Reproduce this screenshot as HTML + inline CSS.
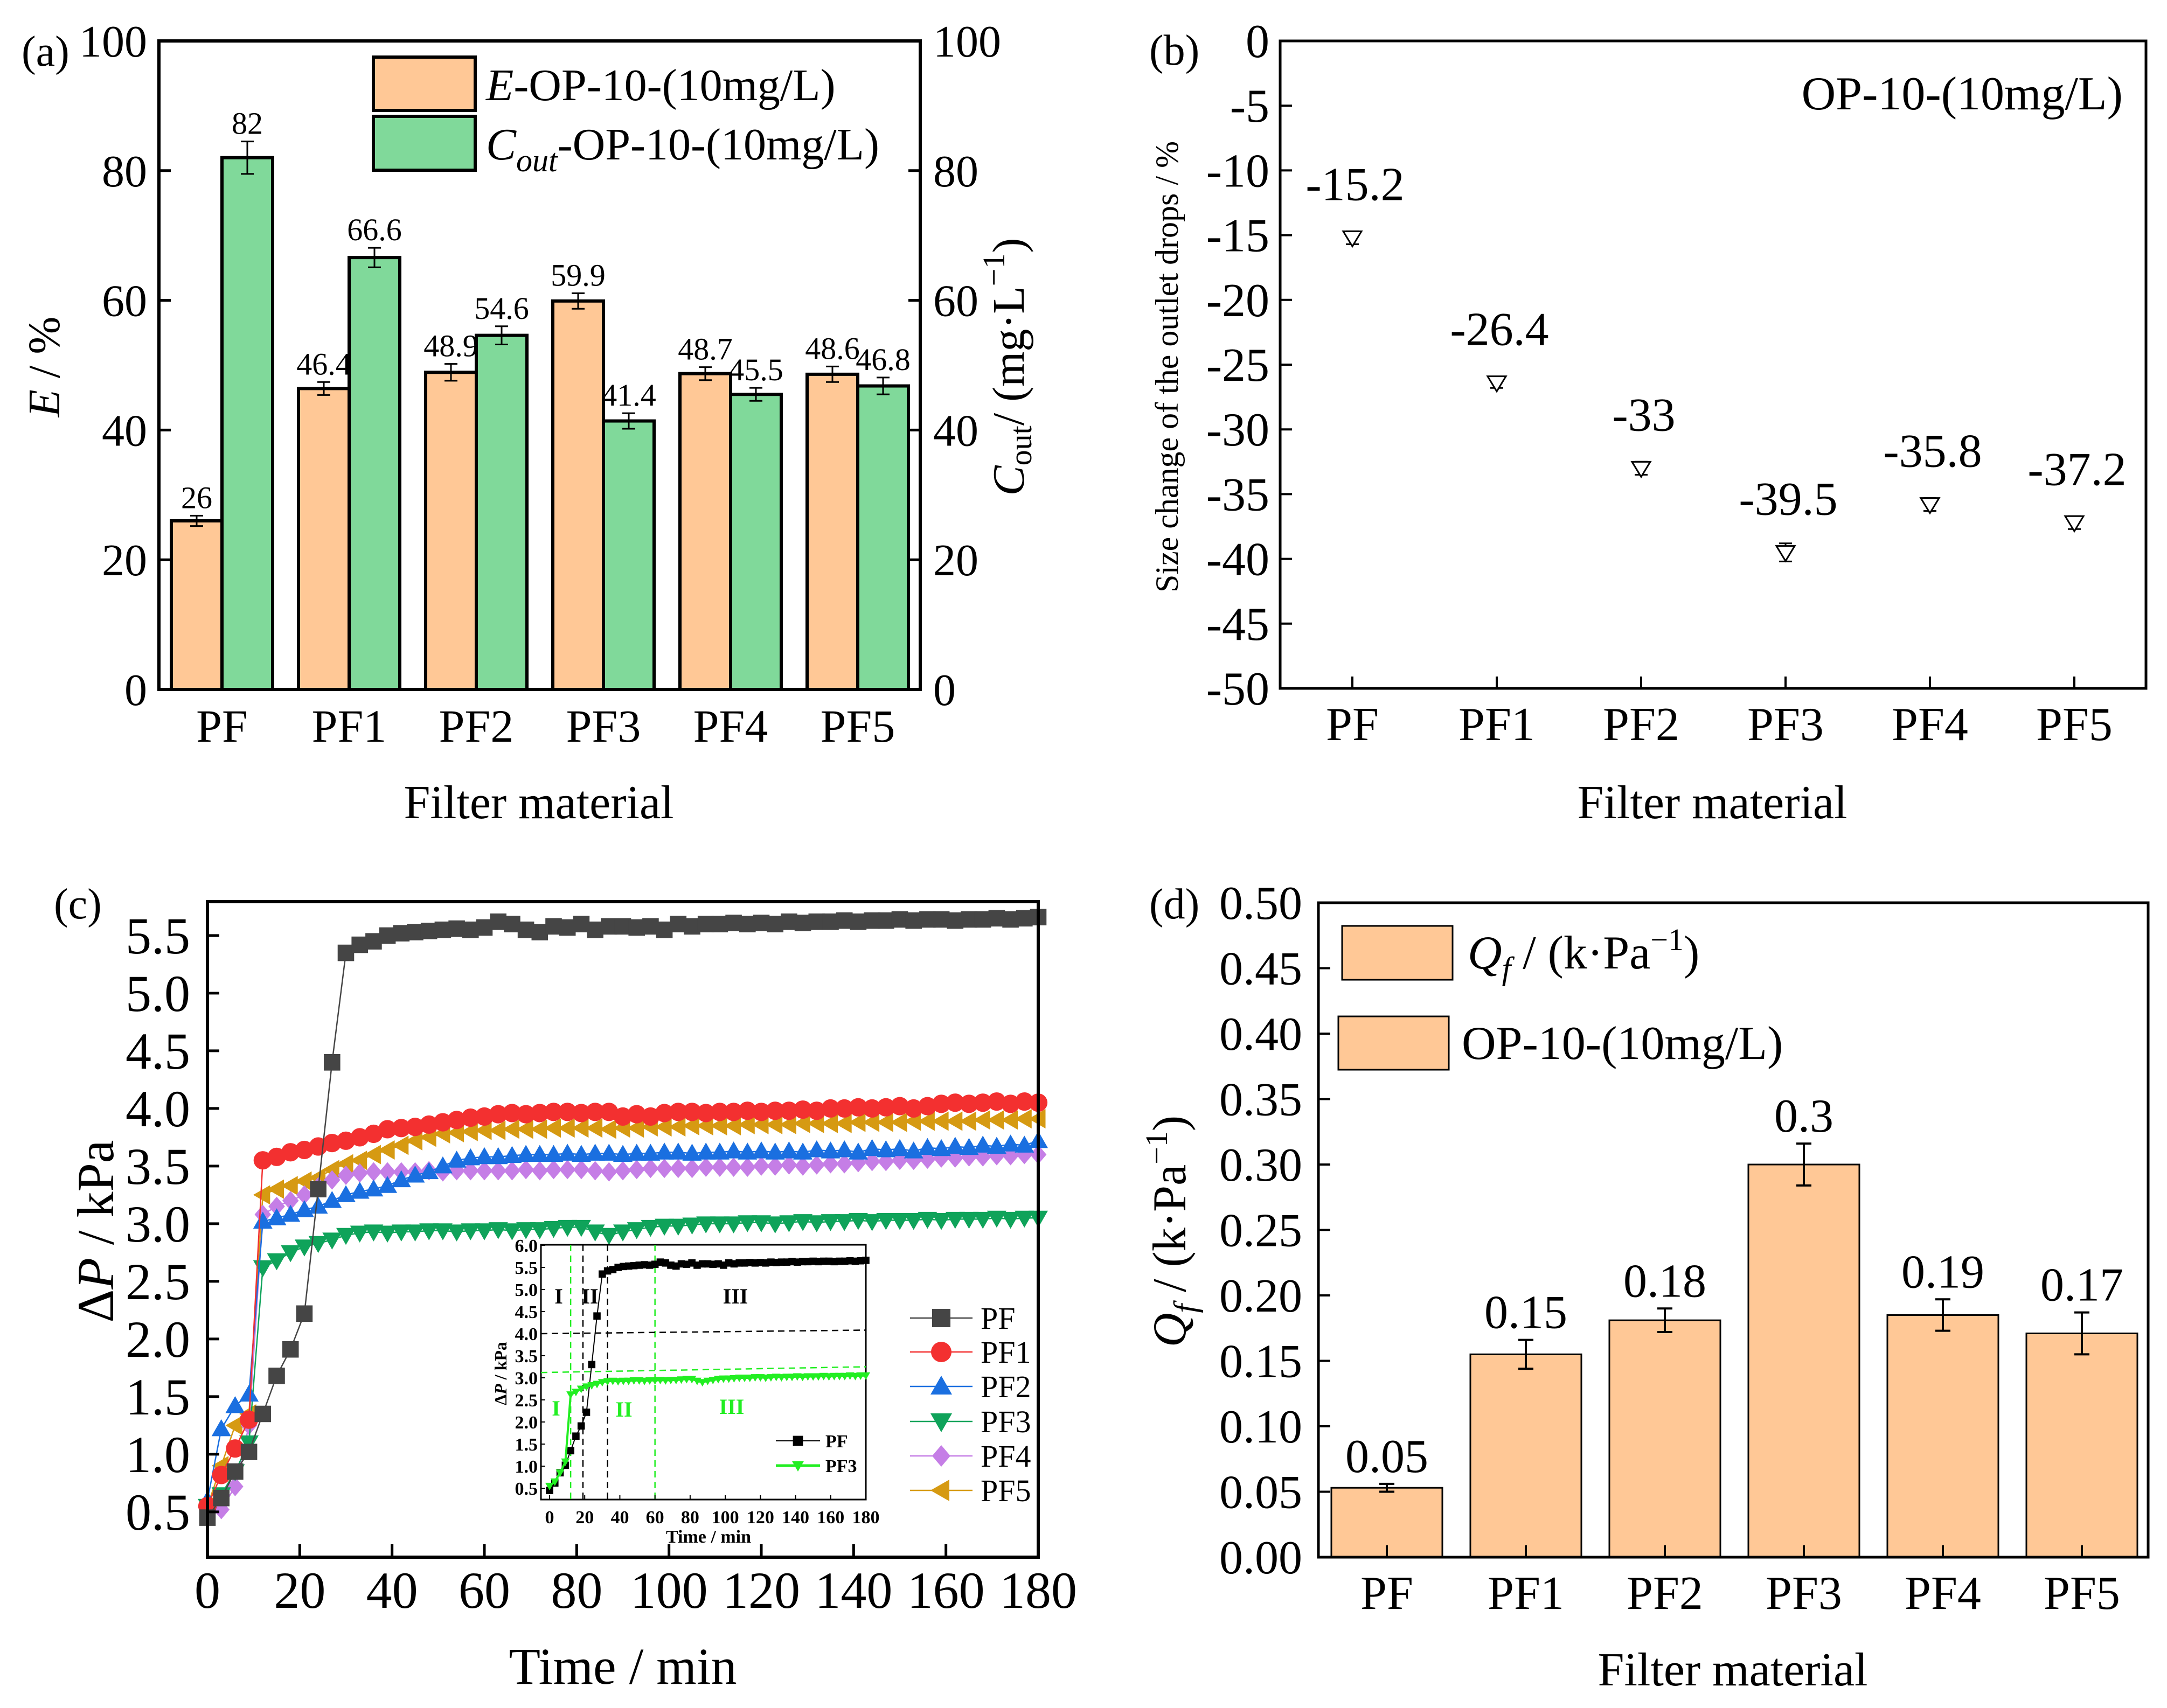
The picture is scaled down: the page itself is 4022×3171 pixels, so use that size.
<!DOCTYPE html>
<html><head><meta charset="utf-8">
<style>
html,body{margin:0;padding:0;background:#fff;}
svg{display:block;font-family:"Liberation Serif",serif;}
</style></head>
<body>
<svg id="fig" xmlns="http://www.w3.org/2000/svg" width="4022" height="3171" viewBox="0 0 4022 3171"></svg>
<script>
// ---------- Panel (a) data ----------
const aCats = ['PF','PF1','PF2','PF3','PF4','PF5'];
const aE = [26, 46.4, 48.9, 59.9, 48.7, 48.6];
const aEErr = [0.8, 1.0, 1.3, 1.2, 1.0, 1.2];
const aEText = ['26','46.4','48.9','59.9','48.7','48.6'];
const aC = [82, 66.6, 54.6, 41.4, 45.5, 46.8];
const aCErr = [2.5, 1.5, 1.4, 1.2, 1.0, 1.3];
const aCText = ['82','66.6','54.6','41.4','45.5','46.8'];
const aTicks = [0,20,40,60,80,100];
// ---------- Panel (b) data ----------
const bCats = ['PF','PF1','PF2','PF3','PF4','PF5'];
const bVals = [-15.2, -26.4, -33, -39.5, -35.8, -37.2];
const bErr = [0.5, 0.4, 0.5, 0.7, 0.5, 0.5];
const bText = ['-15.2','-26.4','-33','-39.5','-35.8','-37.2'];
const bTicks = [0,-5,-10,-15,-20,-25,-30,-35,-40,-45,-50];
// ---------- Panel (c) data ----------
const cTime = [0,3,6,9,12,15,18,21,24,27,30,33,36,39,42,45,48,51,54,57,60,63,66,69,72,75,78,81,84,87,90,93,96,99,102,105,108,111,114,117,120,123,126,129,132,135,138,141,144,147,150,153,156,159,162,165,168,171,174,177,180];
const cPF = [0.45,0.62,0.85,1.02,1.35,1.68,1.91,2.22,3.30,4.40, 5.35,5.42,5.45,5.50,5.52,5.53,5.54,5.55,5.56,5.55, 5.57,5.62,5.60,5.55,5.53,5.58,5.57,5.60,5.55,5.58, 5.58,5.57,5.58,5.55,5.60,5.58,5.60,5.60,5.61,5.60, 5.61,5.60,5.62,5.61,5.62,5.62,5.63,5.62,5.63,5.63, 5.64,5.63,5.64,5.64,5.63,5.64,5.64,5.65,5.64,5.65, 5.66];
const cPF1 = [0.55,0.82,1.05,1.30,3.55,3.58,3.62,3.64,3.67,3.70, 3.72,3.75,3.78,3.82,3.83,3.84,3.86,3.88,3.90,3.92, 3.93,3.95,3.96,3.95,3.96,3.97,3.97,3.96,3.97,3.97, 3.93,3.95,3.93,3.96,3.97,3.97,3.96,3.97,3.97,3.98, 3.97,3.98,3.98,3.99,3.98,4.00,4.00,4.01,4.00,4.01, 4.02,4.00,4.02,4.04,4.05,4.04,4.05,4.06,4.04,4.06, 4.05];
const cPF2 = [0.60,1.22,1.42,1.52,3.02,3.05,3.08,3.12,3.15,3.20, 3.25,3.28,3.30,3.33,3.38,3.42,3.45,3.50,3.55,3.57, 3.58,3.58,3.59,3.60,3.60,3.60,3.61,3.60,3.61,3.61, 3.60,3.61,3.61,3.62,3.62,3.61,3.62,3.62,3.63,3.62, 3.63,3.62,3.63,3.62,3.64,3.63,3.64,3.62,3.65,3.64, 3.65,3.63,3.66,3.65,3.67,3.66,3.68,3.67,3.69,3.68, 3.72];
const cPF3 = [0.55,0.65,0.85,1.10,2.62,2.68,2.75,2.80,2.83,2.86, 2.90,2.92,2.93,2.92,2.93,2.93,2.94,2.94,2.93,2.94, 2.94,2.95,2.94,2.95,2.95,2.96,2.97,2.97,2.93,2.90, 2.93,2.95,2.97,2.98,2.98,2.99,3.00,3.00,3.00,3.01, 3.01,3.00,3.01,3.02,3.01,3.02,3.02,3.03,3.02,3.03, 3.03,3.03,3.04,3.03,3.04,3.04,3.04,3.05,3.04,3.05, 3.05];
const cPF4 = [0.45,0.52,0.72,1.25,3.08,3.15,3.20,3.25,3.32,3.38, 3.42,3.44,3.45,3.45,3.45,3.45,3.46,3.45,3.46,3.46, 3.46,3.46,3.46,3.47,3.46,3.47,3.47,3.47,3.46,3.45, 3.46,3.47,3.48,3.48,3.48,3.48,3.49,3.49,3.49,3.49, 3.50,3.50,3.51,3.50,3.51,3.52,3.52,3.53,3.54,3.54, 3.55,3.55,3.56,3.57,3.57,3.58,3.58,3.59,3.59,3.60, 3.60];
const cPF5 = [0.55,0.90,1.25,1.35,3.25,3.30,3.33,3.37,3.40,3.47, 3.52,3.55,3.60,3.64,3.68,3.72,3.75,3.78,3.79,3.80, 3.81,3.81,3.82,3.82,3.82,3.83,3.83,3.83,3.83,3.82, 3.83,3.83,3.84,3.84,3.84,3.85,3.85,3.85,3.85,3.86, 3.86,3.86,3.86,3.87,3.87,3.87,3.87,3.88,3.88,3.88, 3.88,3.89,3.89,3.89,3.89,3.89,3.90,3.90,3.90,3.91, 3.91];
const cSeriesNames = ['PF','PF1','PF2','PF3','PF4','PF5'];
const cXTicks = [0,20,40,60,80,100,120,140,160,180];
const cYTicks = [0.5,1.0,1.5,2.0,2.5,3.0,3.5,4.0,4.5,5.0,5.5];
const insetYTicks = [0.5,1.0,1.5,2.0,2.5,3.0,3.5,4.0,4.5,5.0,5.5,6.0];
const insetXTicks = [0,20,40,60,80,100,120,140,160,180];
const insetBlackStages = [19, 33];
const insetGreenStages = [12, 60];
// ---------- Panel (d) data ----------
const dCats = ['PF','PF1','PF2','PF3','PF4','PF5'];
const dVals = [0.053, 0.155, 0.181, 0.300, 0.185, 0.171];
const dErr = [0.003, 0.011, 0.009, 0.016, 0.012, 0.016];
const dText = ['0.05','0.15','0.18','0.3','0.19','0.17'];
const dTicks = [0,0.05,0.10,0.15,0.20,0.25,0.30,0.35,0.40,0.45,0.50];

const svg = document.getElementById('fig');
const NS = 'http://www.w3.org/2000/svg';
function el(tag, attrs, parent){
  const e = document.createElementNS(NS, tag);
  for (const k in attrs) e.setAttribute(k, attrs[k]);
  (parent||svg).appendChild(e);
  return e;
}
function tx(parent, x, y, s, size, anchor, extra){
  const e = el('text', Object.assign({x:x, y:y, 'font-size':size, 'text-anchor':anchor||'middle', fill:'#000'}, extra||{}), parent);
  e.textContent = s;
  return e;
}
function group(name){
  const g = el('g', {});
  
  
  return g;
}

// ================= PANEL A =================
(function(){
  const g = group('panel-a');
  const L=295, R=1708, T=76, B=1280;
  const ya = v => B - v*(B-T)/100;
  const cx = i => 412 + i*236;
  const bw = 94;
  let e;
  aCats.forEach((c,i)=>{
    e = el('rect',{x:cx(i)-bw,y:ya(aE[i]),width:bw,height:B-ya(aE[i]),fill:'#FFC896',stroke:'#000','stroke-width':6},g);
    
    
    e = el('rect',{x:cx(i),y:ya(aC[i]),width:bw,height:B-ya(aC[i]),fill:'#80D99A',stroke:'#000','stroke-width':6},g);
    
    
  });
  aCats.forEach((c,i)=>{
    const xs=[cx(i)-bw/2, cx(i)+bw/2], vs=[aE[i],aC[i]], es=[aEErr[i],aCErr[i]], ts=[aEText[i],aCText[i]];
    for(let k=0;k<2;k++){
      const y1=ya(vs[k]+es[k]), y2=ya(vs[k]-es[k]);
      e = el('path',{d:`M${xs[k]},${y1}V${y2}M${xs[k]-12},${y1}h24M${xs[k]-12},${y2}h24`,stroke:'#000','stroke-width':3,fill:'none'},g);
      
      
      e = tx(g, xs[k], y1-14, ts[k], 58);
      
      
    }
  });
  e = el('rect',{x:L,y:T,width:R-L,height:B-T,fill:'none',stroke:'#000','stroke-width':6},g);
  
  
  aTicks.forEach(v=>{
    el('path',{d:`M${L},${ya(v)}h22M${R},${ya(v)}h-22`,stroke:'#000','stroke-width':5},g);
    e = tx(g, L-22, ya(v)+29, String(v), 84, 'end');
    
    
    e = tx(g, R+24, ya(v)+29, String(v), 84, 'start');
    
    
  });
  aCats.forEach((c,i)=>{
    el('path',{d:`M${cx(i)},${B}v-20`,stroke:'#000','stroke-width':5},g);
    e = tx(g, cx(i), 1377, c, 86);
    
    
  });
  e = tx(g, 1000, 1519, 'Filter material', 88);
  
  
  e = el('text',{transform:'translate(110,681) rotate(-90)','font-size':84,'text-anchor':'middle'},g);
  e.innerHTML = '<tspan font-style="italic">E</tspan> / %';
  
  
  e = el('text',{transform:'translate(1900,681) rotate(-90)','font-size':84,'text-anchor':'middle'},g);
  e.innerHTML = '<tspan font-style="italic">C</tspan><tspan font-size="58" dy="14">out</tspan><tspan dy="-14">/ (mg·L</tspan><tspan font-size="58" dy="-36">−1</tspan><tspan dy="36">)</tspan>';
  
  
  e = tx(g, 40, 122, '(a)', 80, 'start');
  
  
  // legend
  e = el('rect',{x:693,y:106,width:189,height:99,fill:'#FFC896',stroke:'#000','stroke-width':6},g);
  
  
  e = el('rect',{x:693,y:216,width:189,height:100,fill:'#80D99A',stroke:'#000','stroke-width':6},g);
  
  
  e = el('text',{x:902,y:186,'font-size':84},g);
  e.innerHTML = '<tspan font-style="italic">E</tspan>-OP-10-(10mg/L)';
  
  
  e = el('text',{x:902,y:296,'font-size':84},g);
  e.innerHTML = '<tspan font-style="italic">C</tspan><tspan font-style="italic" font-size="60" dy="22">out</tspan><tspan dy="-22">-OP-10-(10mg/L)</tspan>';
  
  
})();

// ================= PANEL B =================
(function(){
  const g = group('panel-b');
  const L=2376, R=3983, T=76, B=1278;
  const yb = v => T + (0 - v)*(B-T)/50;
  const xb = i => 2510 + i*268;
  let e;
  e = el('rect',{x:L,y:T,width:R-L,height:B-T,fill:'none',stroke:'#000','stroke-width':5},g);
  
  
  bTicks.forEach(v=>{
    el('path',{d:`M${L},${yb(v)}h22`,stroke:'#000','stroke-width':4},g);
    e = tx(g, L-20, yb(v)+30, String(v), 88, 'end');
    
    
  });
  bCats.forEach((c,i)=>{
    const x=xb(i), y=yb(bVals[i]);
    el('path',{d:`M${x},${B}v-22`,stroke:'#000','stroke-width':4},g);
    e = tx(g, x, 1374, c, 88);
    
    
    const y1=yb(bVals[i]+bErr[i]), y2=yb(bVals[i]-bErr[i]);
    e = el('path',{d:`M${x},${y1}V${y2}M${x-12},${y1}h24M${x-12},${y2}h24`,stroke:'#000','stroke-width':3,fill:'none'},g);
    
    
    e = el('path',{d:`M${x-17},${y-12}L${x+17},${y-12}L${x},${y+16}Z`,fill:'#fff',stroke:'#000','stroke-width':3},g);
    
    
    e = tx(g, x+5, y-70, bText[i], 88);
    
    
  });
  e = tx(g, 3940, 203, 'OP-10-(10mg/L)', 88, 'end');
  
  
  e = tx(g, 3178, 1519, 'Filter material', 88);
  
  
  e = tx(g, 0, 0, 'Size change of the outlet drops  / %', 60, 'middle', {transform:'translate(2186,681) rotate(-90)'});
  
  
  e = tx(g, 2133, 120, '(b)', 80, 'start');
  
  
})();

// ================= PANEL C =================
function marker(parent, kind, x, y, r, color){
  let d;
  if(kind==='square') d=`M${x-r*0.85},${y-r*0.85}h${1.7*r}v${1.7*r}h${-1.7*r}Z`;
  else if(kind==='circle') return el('circle',{cx:x,cy:y,r:r*0.95,fill:color},parent);
  else if(kind==='up') d=`M${x},${y-r}L${x+r},${y+r*0.75}L${x-r},${y+r*0.75}Z`;
  else if(kind==='down') d=`M${x},${y+r}L${x+r},${y-r*0.75}L${x-r},${y-r*0.75}Z`;
  else if(kind==='diamond') d=`M${x},${y-r}L${x+r*0.85},${y}L${x},${y+r}L${x-r*0.85},${y}Z`;
  else d=`M${x-r},${y}L${x+r*0.75},${y-r}L${x+r*0.75},${y+r}Z`;
  return el('path',{d:d,fill:color},parent);
}
(function(){
  const g = group('panel-c');
  const L=385, R=1927, T=1674, B=2891;
  const ymin=0.107, ymax=5.794;
  const xc = t => L + t*(R-L)/180;
  const yc = v => B - (v-ymin)*(B-T)/(ymax-ymin);
  const series = [cPF,cPF1,cPF2,cPF3,cPF4,cPF5];
  const colors = ['#454545','#F33030','#1A6FE0','#0FA35A','#C57EE6','#D69A12'];
  const kinds = ['square','circle','up','down','diamond','left'];
  let e;
  for(let s=5;s>=0;s--){
    const vals = series[s];
    const pts = vals.map((v,i)=>xc(cTime[i])+','+yc(v)).join(' ');
    e = el('polyline',{points:pts,fill:'none',stroke:colors[s],'stroke-width':2.5},g);
    
    
    vals.forEach((v,i)=>{
      const m = marker(g, kinds[s], xc(cTime[i]), yc(v), 18, colors[s]);
      
      
    });
  }
  e = el('rect',{x:L,y:T,width:R-L,height:B-T,fill:'none',stroke:'#000','stroke-width':6},g);
  
  
  cYTicks.forEach(v=>{
    el('path',{d:`M${L},${yc(v)}h22`,stroke:'#000','stroke-width':5},g);
    e = tx(g, L-32, yc(v)+33, v.toFixed(1), 96, 'end');
    
    
  });
  cXTicks.forEach(v=>{
    el('path',{d:`M${xc(v)},${B}v-24`,stroke:'#000','stroke-width':5},g);
    e = tx(g, xc(v), 2985, String(v), 96);
    
    
  });
  e = tx(g, 1156, 3126, 'Time / min', 96);
  
  
  e = el('text',{transform:'translate(210,2286) rotate(-90)','font-size':96,'text-anchor':'middle'},g);
  e.innerHTML = 'Δ<tspan font-style="italic">P</tspan> / kPa';
  
  
  e = tx(g, 100, 1705, '(c)', 80, 'start');
  
  
  // legend
  const ly=[2447,2510,2574,2639,2703,2767];
  cSeriesNames.forEach((n,s)=>{
    el('path',{d:`M1689,${ly[s]}H1805`,stroke:colors[s],'stroke-width':2.5},g);
    const m = marker(g, kinds[s], 1747, ly[s], 20, colors[s]);
    
    
    e = tx(g, 1820, ly[s]+20, n, 58, 'start');
    
    
  });

  // ---------- inset ----------
  const gi = group('inset-chart');
  const IL=1004, IR=1607, IT=2311, IB=2784;
  const xi = t => 1020 + t*(IR-1020)/180;
  const yi = v => 2763 - (v-0.5)*82;
  e = el('rect',{x:IL,y:IT,width:IR-IL,height:IB-IT,fill:'#fff',stroke:'#000','stroke-width':3},gi);
  
  
  insetBlackStages.forEach(t=>{
    e = el('path',{d:`M${xi(t)},${IT}V${IB}`,stroke:'#000','stroke-width':2.5,'stroke-dasharray':'12,8'},gi);
    
    
  });
  insetGreenStages.forEach(t=>{
    e = el('path',{d:`M${xi(t)},${IT}V${IB}`,stroke:'#22ee22','stroke-width':2.5,'stroke-dasharray':'12,8'},gi);
    
    
  });
  e = el('path',{d:`M${IL},${yi(4.0)}L${IR},${yi(4.08)}`,stroke:'#000','stroke-width':2.5,'stroke-dasharray':'12,8'},gi);
  
  
  e = el('path',{d:`M${IL},${yi(3.12)}L${IR},${yi(3.25)}`,stroke:'#22ee22','stroke-width':2.5,'stroke-dasharray':'12,8'},gi);
  
  
  const insetSeries=[cPF,cPF3], insetCol=['#000','#22ee22'], insetKind=['square','down'], insetNames=['PF','PF3'];
  insetSeries.forEach((vals,s)=>{
    e = el('polyline',{points:vals.map((v,i)=>xi(cTime[i])+','+yi(v)).join(' '),fill:'none',stroke:insetCol[s],'stroke-width':s?4:2},gi);
    
    
    vals.forEach((v,i)=>{
      const m = marker(gi, insetKind[s], xi(cTime[i]), yi(v), 8, insetCol[s]);
      
      
    });
  });
  insetYTicks.forEach(v=>{
    el('path',{d:`M${IL},${yi(v)}h8`,stroke:'#000','stroke-width':2},gi);
    e = tx(gi, IL-6, yi(v)+12, v.toFixed(1), 34, 'end', {'font-weight':'bold'});
    
    
  });
  insetXTicks.forEach(v=>{
    el('path',{d:`M${xi(v)},${IB}v-8`,stroke:'#000','stroke-width':2},gi);
    e = tx(gi, xi(v), 2828, String(v), 34, 'middle', {'font-weight':'bold'});
    
    
  });
  e = tx(gi, 1315, 2864, 'Time / min', 34, 'middle', {'font-weight':'bold'});
  
  
  e = el('text',{transform:'translate(940,2550) rotate(-90)','font-size':32,'text-anchor':'middle','font-weight':'bold'},gi);
  e.innerHTML = 'Δ<tspan font-style="italic">P</tspan> / kPa';
  
  
  [['I',1037,2420,'#000'],['II',1095,2420,'#000'],['III',1365,2420,'#000'],['I',1032,2628,'#22ee22'],['II',1158,2630,'#22ee22'],['III',1358,2625,'#22ee22']].forEach(a=>{
    e = tx(gi, a[1], a[2], a[0], 40, 'middle', {'font-weight':'bold',fill:a[3]});
    
    
  });
  [[2675,'#000','square','PF'],[2721,'#22ee22','down','PF3']].forEach((a,k)=>{
    el('path',{d:`M1440,${a[0]}H1522`,stroke:a[1],'stroke-width':k?5:2},gi);
    const m = marker(gi, a[2], 1481, a[0], 11, a[1]);
    
    
    e = tx(gi, 1532, a[0]+12, a[3], 34, 'start', {'font-weight':'bold'});
    
    
  });
})();

// ================= PANEL D =================
(function(){
  const g = group('panel-d');
  const L=2447, R=3987, T=1676, B=2891;
  const yd = v => B - v*(B-T)/0.5;
  const xd = i => 2574 + i*258;
  const bw = 206;
  let e;
  dCats.forEach((c,i)=>{
    e = el('rect',{x:xd(i)-bw/2,y:yd(dVals[i]),width:bw,height:B-yd(dVals[i]),fill:'#FFC896',stroke:'#000','stroke-width':3},g);
    
    
    const x=xd(i), y1=yd(dVals[i]+dErr[i]), y2=yd(dVals[i]-dErr[i]);
    e = el('path',{d:`M${x},${y1}V${y2}M${x-14},${y1}h28M${x-14},${y2}h28`,stroke:'#000','stroke-width':4,fill:'none'},g);
    
    
    e = tx(g, x, y1-22, dText[i], 88);
    
    
    el('path',{d:`M${x},${B}v-22`,stroke:'#000','stroke-width':4},g);
    e = tx(g, x, 2987, c, 88);
    
    
  });
  e = el('rect',{x:L,y:T,width:R-L,height:B-T,fill:'none',stroke:'#000','stroke-width':5},g);
  
  
  dTicks.forEach(v=>{
    el('path',{d:`M${L},${yd(v)}h22`,stroke:'#000','stroke-width':4},g);
    e = tx(g, 2417, yd(v)+30, v.toFixed(2), 88, 'end');
    
    
  });
  e = el('rect',{x:2491,y:1719,width:205,height:100,fill:'#FFC896',stroke:'#000','stroke-width':3},g);
  
  
  e = el('rect',{x:2484,y:1887,width:205,height:99,fill:'#FFC896',stroke:'#000','stroke-width':3},g);
  
  
  e = el('text',{x:2724,y:1798,'font-size':88},g);
  e.innerHTML = '<tspan font-style="italic">Q</tspan><tspan font-style="italic" font-size="60" dy="20">f</tspan><tspan dy="-20"> / (k·Pa</tspan><tspan font-size="58" dy="-34">−1</tspan><tspan dy="34">)</tspan>';
  
  
  e = tx(g, 2713, 1966, 'OP-10-(10mg/L)', 88, 'start');
  
  
  e = tx(g, 3216, 3129, 'Filter material', 88);
  
  
  e = el('text',{transform:'translate(2200,2286) rotate(-90)','font-size':88,'text-anchor':'middle'},g);
  e.innerHTML = '<tspan font-style="italic">Q</tspan><tspan font-style="italic" font-size="60" dy="20">f</tspan><tspan dy="-20"> / (k·Pa</tspan><tspan font-size="58" dy="-34">−1</tspan><tspan dy="34">)</tspan>';
  
  
  e = tx(g, 2133, 1705, '(d)', 80, 'start');
  
  
})();
</script>
</body></html>
